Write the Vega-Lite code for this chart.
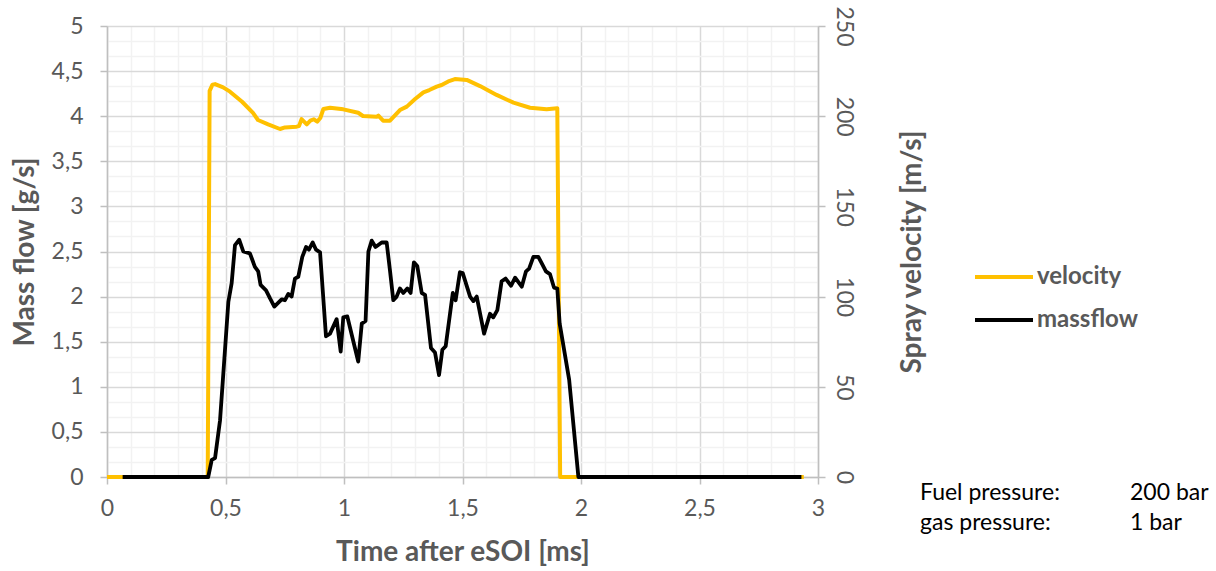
{
  "$schema": "https://vega.github.io/schema/vega-lite/v6.json",
  "width": 711,
  "height": 451,
  "autosize": {"type": "none"},
  "padding": {"left": 107, "top": 26, "right": 398, "bottom": 94},
  "background": "white",
  "config": {
    "view": {"stroke": null},
    "axis": {
      "labelFont": "Lato", "labelFontSize": 23, "labelColor": "#595959",
      "titleFont": "Lato", "titleFontSize": 28, "titleFontWeight": "bold", "titleColor": "#595959",
      "domainColor": "#BFBFBF", "domainWidth": 1.5,
      "tickColor": "#BFBFBF", "tickWidth": 1.5, "tickSize": 7,
      "labelOverlap": false, "labelFlush": false
    },
    "legend": {
      "labelFont": "Lato", "labelFontSize": 24, "labelFontWeight": "bold", "labelColor": "#595959"
    }
  },
  "datasets": {
    "velocity": [
      {"t": 0, "v": 0}, {"t": 0.425, "v": 0}, {"t": 0.433, "v": 214}, {"t": 0.445, "v": 217.5},
      {"t": 0.456, "v": 217.8}, {"t": 0.49, "v": 216}, {"t": 0.519, "v": 213.6}, {"t": 0.57, "v": 208},
      {"t": 0.616, "v": 201.8}, {"t": 0.637, "v": 197.9}, {"t": 0.68, "v": 195.5}, {"t": 0.73, "v": 192.9},
      {"t": 0.751, "v": 193.8}, {"t": 0.8, "v": 194.2}, {"t": 0.81, "v": 194.5}, {"t": 0.821, "v": 198.4},
      {"t": 0.843, "v": 195.5}, {"t": 0.858, "v": 197.5}, {"t": 0.873, "v": 198.3}, {"t": 0.887, "v": 197},
      {"t": 0.9, "v": 199}, {"t": 0.913, "v": 204}, {"t": 0.941, "v": 204.7}, {"t": 0.997, "v": 203.8},
      {"t": 1.06, "v": 201.9}, {"t": 1.08, "v": 200.1}, {"t": 1.138, "v": 199.7}, {"t": 1.145, "v": 200.3},
      {"t": 1.165, "v": 197.5}, {"t": 1.194, "v": 197.5}, {"t": 1.236, "v": 203.4}, {"t": 1.265, "v": 205.3},
      {"t": 1.3, "v": 209.5}, {"t": 1.335, "v": 213.2}, {"t": 1.36, "v": 214.5}, {"t": 1.391, "v": 216.4},
      {"t": 1.412, "v": 217.3}, {"t": 1.44, "v": 219.3}, {"t": 1.468, "v": 220.6}, {"t": 1.518, "v": 220.1},
      {"t": 1.574, "v": 216.7}, {"t": 1.644, "v": 211.8}, {"t": 1.715, "v": 207.5}, {"t": 1.785, "v": 204.7},
      {"t": 1.855, "v": 203.8}, {"t": 1.9, "v": 204.4}, {"t": 1.912, "v": 0}, {"t": 2.94, "v": 0}
    ],
    "massflow": [
      {"t": 0.066, "m": 0}, {"t": 0.427, "m": 0}, {"t": 0.442, "m": 0.19}, {"t": 0.456, "m": 0.21},
      {"t": 0.477, "m": 0.63}, {"t": 0.512, "m": 1.94}, {"t": 0.526, "m": 2.15}, {"t": 0.54, "m": 2.57},
      {"t": 0.558, "m": 2.63}, {"t": 0.575, "m": 2.5}, {"t": 0.603, "m": 2.48}, {"t": 0.624, "m": 2.33},
      {"t": 0.638, "m": 2.28}, {"t": 0.648, "m": 2.13}, {"t": 0.671, "m": 2.07}, {"t": 0.688, "m": 1.98},
      {"t": 0.706, "m": 1.89}, {"t": 0.737, "m": 1.97}, {"t": 0.751, "m": 1.96}, {"t": 0.765, "m": 2.03},
      {"t": 0.779, "m": 2.0}, {"t": 0.793, "m": 2.2}, {"t": 0.807, "m": 2.22}, {"t": 0.824, "m": 2.44},
      {"t": 0.84, "m": 2.55}, {"t": 0.852, "m": 2.52}, {"t": 0.868, "m": 2.6}, {"t": 0.882, "m": 2.52},
      {"t": 0.899, "m": 2.49}, {"t": 0.924, "m": 1.56}, {"t": 0.941, "m": 1.59}, {"t": 0.969, "m": 1.75},
      {"t": 0.986, "m": 1.39}, {"t": 0.997, "m": 1.77}, {"t": 1.014, "m": 1.78}, {"t": 1.06, "m": 1.28},
      {"t": 1.075, "m": 1.7}, {"t": 1.091, "m": 1.73}, {"t": 1.103, "m": 2.5}, {"t": 1.117, "m": 2.62},
      {"t": 1.133, "m": 2.55}, {"t": 1.159, "m": 2.6}, {"t": 1.18, "m": 2.6}, {"t": 1.194, "m": 2.29},
      {"t": 1.208, "m": 1.96}, {"t": 1.222, "m": 2.0}, {"t": 1.236, "m": 2.09}, {"t": 1.25, "m": 2.04},
      {"t": 1.267, "m": 2.09}, {"t": 1.281, "m": 2.04}, {"t": 1.295, "m": 2.38}, {"t": 1.309, "m": 2.34},
      {"t": 1.328, "m": 2.04}, {"t": 1.342, "m": 2.02}, {"t": 1.367, "m": 1.43}, {"t": 1.384, "m": 1.38},
      {"t": 1.401, "m": 1.13}, {"t": 1.415, "m": 1.41}, {"t": 1.429, "m": 1.45}, {"t": 1.459, "m": 2.04},
      {"t": 1.471, "m": 1.96}, {"t": 1.489, "m": 2.27}, {"t": 1.501, "m": 2.26}, {"t": 1.532, "m": 2.0},
      {"t": 1.546, "m": 1.95}, {"t": 1.56, "m": 2.0}, {"t": 1.591, "m": 1.59}, {"t": 1.616, "m": 1.81},
      {"t": 1.63, "m": 1.77}, {"t": 1.647, "m": 1.85}, {"t": 1.665, "m": 2.17}, {"t": 1.682, "m": 2.2},
      {"t": 1.705, "m": 2.12}, {"t": 1.722, "m": 2.21}, {"t": 1.75, "m": 2.11}, {"t": 1.768, "m": 2.28},
      {"t": 1.781, "m": 2.31}, {"t": 1.799, "m": 2.44}, {"t": 1.82, "m": 2.44}, {"t": 1.834, "m": 2.37},
      {"t": 1.852, "m": 2.28}, {"t": 1.869, "m": 2.25}, {"t": 1.886, "m": 2.1}, {"t": 1.9, "m": 2.09},
      {"t": 1.91, "m": 1.7}, {"t": 1.95, "m": 1.08}, {"t": 1.989, "m": 0}, {"t": 2.93, "m": 0}
    ],
    "one": [{}]
  },
  "layer": [
    {
      "data": {"name": "velocity"},
      "mark": {"type": "line", "strokeWidth": 4, "strokeJoin": "round", "clip": false},
      "encoding": {
        "x": {
          "field": "t", "type": "quantitative",
          "scale": {"domain": [0, 3], "nice": false, "zero": false},
          "axis": null
        },
        "y": {
          "field": "v", "type": "quantitative",
          "scale": {"domain": [0, 250], "nice": false},
          "axis": {
            "orient": "right", "title": "Spray velocity [m/s]",
            "values": [0, 50, 100, 150, 200, 250],
            "grid": false,
            "labelAngle": 90, "labelAlign": "center", "labelBaseline": "bottom", "labelPadding": 6,
            "titleAngle": 270, "titleAlign": "center", "titleBaseline": "middle", "titleX": 94, "titleY": 225.5
          }
        },
        "color": {
          "datum": "velocity", "type": "nominal",
          "scale": {"domain": ["velocity", "massflow"], "range": ["#FFC000", "#000000"]},
          "legend": {
            "title": null, "orient": "none", "legendX": 866, "legendY": 220,
            "symbolType": "stroke", "symbolSize": 3364, "symbolStrokeWidth": 4,
            "rowPadding": -6, "labelOffset": 2, "padding": 0
          }
        }
      }
    },
    {
      "data": {"name": "massflow"},
      "mark": {"type": "line", "strokeWidth": 3.8, "strokeJoin": "round", "clip": false},
      "encoding": {
        "x": {
          "field": "t", "type": "quantitative",
          "scale": {"domain": [0, 3], "nice": false, "zero": false},
          "axis": {
            "orient": "bottom", "title": "Time after eSOI [ms]",
            "values": [0,0.1,0.2,0.3,0.4,0.5,0.6,0.7,0.8,0.9,1,1.1,1.2,1.3,1.4,1.5,1.6,1.7,1.8,1.9,2,2.1,2.2,2.3,2.4,2.5,2.6,2.7,2.8,2.9,3],
            "format": ".1~f",
            "labelExpr": "abs(datum.value*2-round(datum.value*2))<0.001 ? replace(datum.label, '.', ',') : ''",
            "grid": true,
            "gridColor": {"condition": {"test": "abs(datum.value*2-round(datum.value*2))<0.001", "value": "#D9D9D9"}, "value": "#F2F2F2"},
            "gridWidth": 1.5,
            "tickOpacity": {"condition": {"test": "abs(datum.value*2-round(datum.value*2))<0.001", "value": 1}, "value": 0},
            "labelPadding": 13,
            "titleBaseline": "middle", "titleY": 75
          }
        },
        "y": {
          "field": "m", "type": "quantitative",
          "scale": {"domain": [0, 5], "nice": false},
          "axis": {
            "orient": "left", "title": "Mass flow [g/s]",
            "values": [0,0.16667,0.33333,0.5,0.66667,0.83333,1,1.16667,1.33333,1.5,1.66667,1.83333,2,2.16667,2.33333,2.5,2.66667,2.83333,3,3.16667,3.33333,3.5,3.66667,3.83333,4,4.16667,4.33333,4.5,4.66667,4.83333,5],
            "format": ".1~f",
            "labelExpr": "abs(datum.value*2-round(datum.value*2))<0.001 ? replace(datum.label, '.', ',') : ''",
            "grid": true,
            "gridColor": {"condition": {"test": "abs(datum.value*2-round(datum.value*2))<0.001", "value": "#D9D9D9"}, "value": "#F2F2F2"},
            "gridWidth": 1.5,
            "tickOpacity": {"condition": {"test": "abs(datum.value*2-round(datum.value*2))<0.001", "value": 1}, "value": 0},
            "labelPadding": 17,
            "titleAngle": 270, "titleAlign": "center", "titleBaseline": "middle", "titleX": -82, "titleY": 225.5
          }
        },
        "color": {"datum": "massflow", "type": "nominal"}
      }
    },
    {
      "data": {"name": "one"},
      "mark": {"type": "text", "text": "Fuel pressure:", "align": "left", "baseline": "alphabetic", "font": "Lato", "fontSize": 23, "color": "#000000"},
      "encoding": {
        "x": {"datum": 3.4304, "type": "quantitative", "scale": {"domain": [0, 3], "nice": false, "zero": false}, "axis": null},
        "y": {"datum": -0.255, "type": "quantitative", "scale": {"domain": [0, 5], "nice": false, "zero": false}, "axis": null}
      }
    },
    {
      "data": {"name": "one"},
      "mark": {"type": "text", "text": "200 bar", "align": "left", "baseline": "alphabetic", "font": "Lato", "fontSize": 23, "color": "#000000"},
      "encoding": {
        "x": {"datum": 4.3165, "type": "quantitative", "scale": {"domain": [0, 3], "nice": false, "zero": false}, "axis": null},
        "y": {"datum": -0.255, "type": "quantitative", "scale": {"domain": [0, 5], "nice": false, "zero": false}, "axis": null}
      }
    },
    {
      "data": {"name": "one"},
      "mark": {"type": "text", "text": "gas pressure:", "align": "left", "baseline": "alphabetic", "font": "Lato", "fontSize": 23, "color": "#000000"},
      "encoding": {
        "x": {"datum": 3.4304, "type": "quantitative", "scale": {"domain": [0, 3], "nice": false, "zero": false}, "axis": null},
        "y": {"datum": -0.59, "type": "quantitative", "scale": {"domain": [0, 5], "nice": false, "zero": false}, "axis": null}
      }
    },
    {
      "data": {"name": "one"},
      "mark": {"type": "text", "text": "1 bar", "align": "left", "baseline": "alphabetic", "font": "Lato", "fontSize": 23, "color": "#000000"},
      "encoding": {
        "x": {"datum": 4.3165, "type": "quantitative", "scale": {"domain": [0, 3], "nice": false, "zero": false}, "axis": null},
        "y": {"datum": -0.59, "type": "quantitative", "scale": {"domain": [0, 5], "nice": false, "zero": false}, "axis": null}
      }
    }
  ],
  "resolve": {"scale": {"x": "independent", "y": "independent"}}
}
